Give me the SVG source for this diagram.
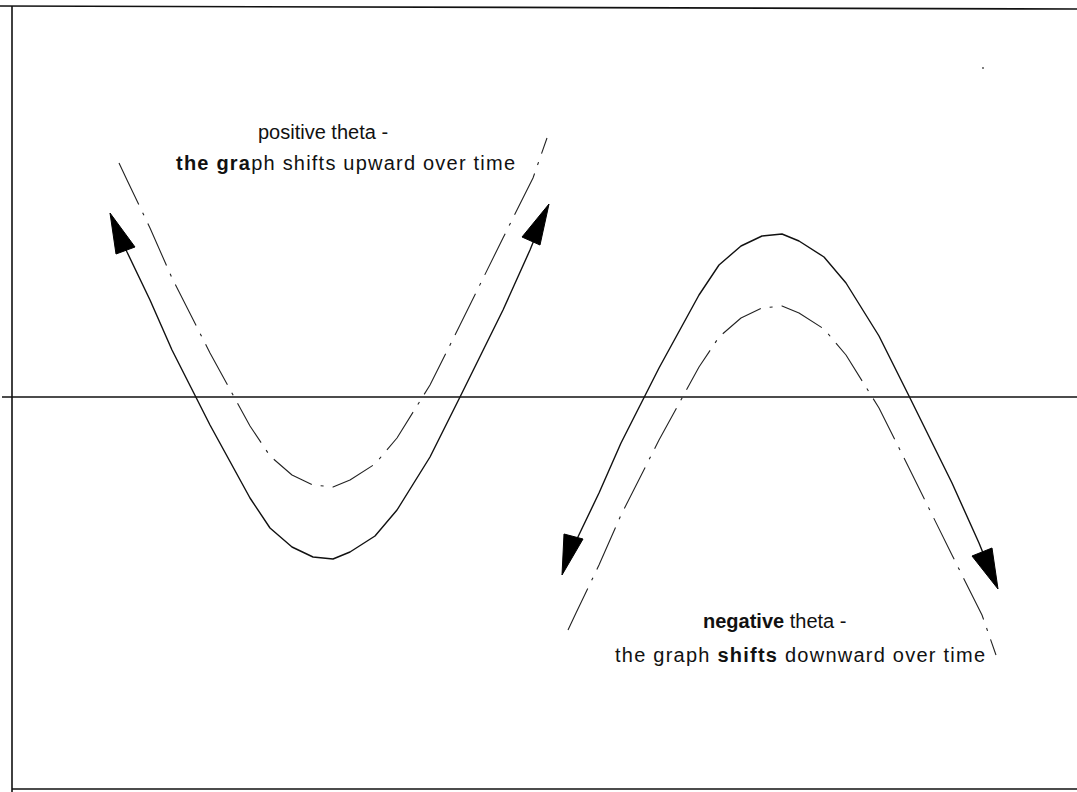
<svg xmlns="http://www.w3.org/2000/svg" width="1077" height="792" viewBox="0 0 1077 792">
<style>
.frame{stroke:#111;stroke-width:1.6;fill:none}
.solid{stroke:#111;stroke-width:1.4;fill:none;stroke-linejoin:round;stroke-linecap:round}
.dash{stroke:#222;stroke-width:1.1;fill:none;stroke-dasharray:46 9 3 9;stroke-linejoin:round}
.head{fill:#000;stroke:#000;stroke-width:1;stroke-linejoin:round}
.t{font-family:"Liberation Sans",Arial,sans-serif;font-size:20px;fill:#111}
.b{font-weight:bold}
</style>
<rect width="1077" height="792" fill="#fff"/>
<g id="frame">
<line class="frame" x1="0" y1="6" x2="1077" y2="9"/>
<line class="frame" x1="12" y1="6" x2="12" y2="792"/>
<line class="frame" x1="12" y1="789" x2="1077" y2="789"/>
<line class="frame" x1="2" y1="397" x2="1077" y2="397"/>
<circle cx="983" cy="68" r="0.9" fill="#444"/>
</g>
<g id="positive-curve">
<polyline class="dash" points="119,163 127,180 150,228 172,278 210,353 250,426 270,456 292,475 313,485 333,487 350,480 375,464 397,438 430,385 460,325 503,238 533,178 547,138"/>
<polyline class="solid" points="112,217 127,252 150,300 172,350 210,425 250,498 270,528 292,547 313,557 333,559 350,552 375,536 397,510 430,457 460,397 503,310 530,250 547,208"/>
<polygon class="head" points="110,213 135,247 116,254"/>
<polygon class="head" points="549,204 540,245 522,237"/>
</g>
<g id="negative-curve">
<polyline class="dash" points="568,630 576,613 599,565 621,515 659,440 699,367 719,337 741,318 762,308 782,306 799,313 824,329 846,355 879,408 909,468 952,555 982,615 996,655"/>
<polyline class="solid" points="563,572 576,541 599,493 621,443 659,368 699,295 719,265 741,246 762,236 782,234 799,241 824,257 846,283 879,336 909,396 952,483 979,543 996,585"/>
<polygon class="head" points="562,575 564,534 583,539"/>
<polygon class="head" points="998,589 972,556 992,548"/>
</g>
<g id="labels">
<text class="t" x="258" y="139">positive theta -</text>
<text class="t" x="176" y="170" textLength="339" lengthAdjust="spacing"><tspan class="b">the gra</tspan>ph shifts upward over time</text>
<text class="t" x="703" y="628"><tspan class="b">negative</tspan> theta -</text>
<text class="t" x="615" y="662" textLength="370" lengthAdjust="spacing">the graph <tspan class="b">shifts</tspan> downward over time</text>
</g>
</svg>
